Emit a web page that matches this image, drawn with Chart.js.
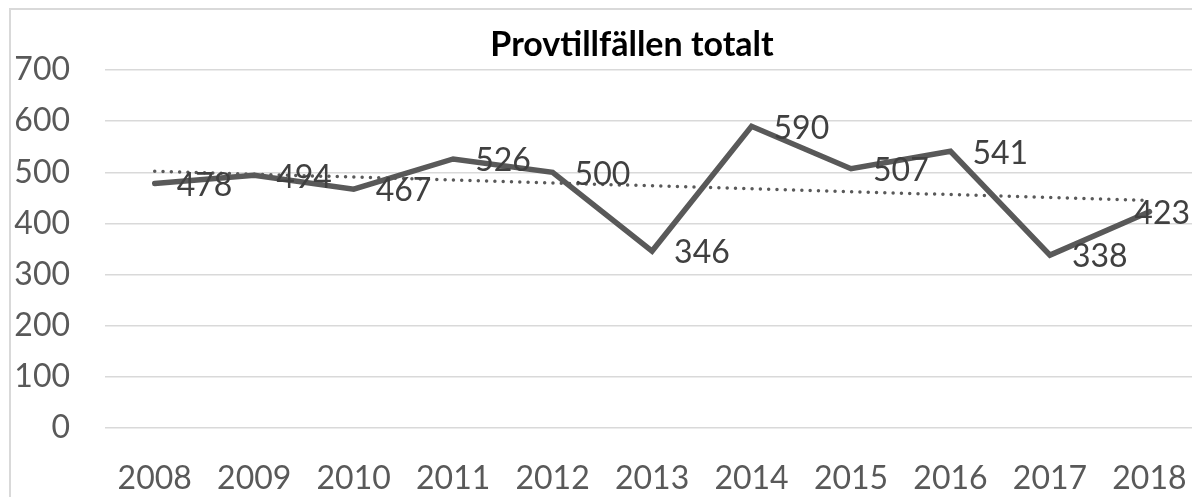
<!DOCTYPE html>
<html>
<head>
<meta charset="utf-8">
<title>Provtillfällen totalt</title>
<script src="https://cdn.jsdelivr.net/npm/chart.js@4"></script>
<style>
    html, body {
        margin: 0;
        padding: 0;
        width: 1192px;
        height: 497px;
        overflow: hidden;
        background: #ffffff;
    }
    .frame {
        position: absolute;
        left: 9px;
        top: 8px;
        width: 1300px;
        height: 600px;
        border-left: 2px solid #d9d9d9;
        border-top: 2px solid #d9d9d9;
        box-sizing: border-box;
    }
    #chart {
        position: absolute;
        left: 0;
        top: 0;
    }
</style>
</head>
<body>
<div class="frame"></div>
<canvas id="chart" width="1210" height="497"></canvas>

<script>
/* ============================================= */
/*                    Data                       */
/* ============================================= */

const years = ["2008", "2009", "2010", "2011", "2012", "2013", "2014", "2015", "2016", "2017", "2018"];
const totals = [478, 494, 467, 526, 500, 346, 590, 507, 541, 338, 423];
const yTicks = [0, 100, 200, 300, 400, 500, 600, 700];

// linear trendline at both ends
const trendStart = 502;
const trendEnd = 445;

const chartTitle = "Provtillfällen totalt";


/* ============================================= */
/*                   Helpers                     */
/* ============================================= */

const FONT = "Lato, 'Open Sans', sans-serif";
const LABEL_RIGHT_LIMIT = 1190;   // labels are pushed back inside the frame

// only the two ends of the trendline, the gaps get spanned
const trendData = years.map((y, i) => {
    if (i === 0) return trendStart;
    if (i === years.length - 1) return trendEnd;
    return null;
});

// draws the title in the middle of the chart frame
const titlePlugin = {
    id: 'excelTitle',
    afterDraw(chart) {
        const ctx = chart.ctx;
        ctx.save();
        ctx.font = "bold 34px " + FONT;
        ctx.fillStyle = '#000000';
        ctx.textAlign = 'center';
        ctx.textBaseline = 'alphabetic';
        ctx.fillText(chartTitle, 632, 56);
        ctx.restore();
    }
};

// value labels, to the right of each point
const valueLabels = {
    id: 'valueLabels',
    afterDatasetsDraw(chart) {
        const meta = chart.getDatasetMeta(1);
        const ctx = chart.ctx;
        ctx.save();
        ctx.font = "32px " + FONT;
        ctx.fillStyle = '#404040';
        ctx.textAlign = 'left';
        ctx.textBaseline = 'middle';
        meta.data.forEach((pt, i) => {
            const txt = String(totals[i]);
            let x = pt.x + 22;
            const w = ctx.measureText(txt).width;
            if (x + w > LABEL_RIGHT_LIMIT) {
                x = LABEL_RIGHT_LIMIT - w;
            }
            ctx.fillText(txt, x, pt.y + 2);
        });
        ctx.restore();
    }
};


/* ============================================= */
/*                  Line Chart                   */
/* ============================================= */

const canvas = document.getElementById('chart');

const chartData = {
    labels: years,
    datasets: [{
        label: 'Linjär trend',
        data: trendData,
        borderColor: '#595959',
        borderWidth: 3.5,
        borderDash: [0, 8.3],
        borderCapStyle: 'round',
        pointRadius: 0,
        spanGaps: true,
        tension: 0
    }, {
        label: 'Provtillfällen',
        data: totals,
        borderColor: '#595959',
        borderWidth: 5.5,
        borderCapStyle: 'round',
        borderJoinStyle: 'miter',
        pointRadius: 0,
        tension: 0
    }]
};

const chartOptions = {
    responsive: false,
    animation: false,
    layout: {
        padding: { top: 70, left: 0, right: 10, bottom: 0 }
    },
    scales: {
        x: {
            offset: true,
            grid: { display: false },
            border: { display: false },
            ticks: {
                color: '#595959',
                font: { family: FONT, size: 32 },
                padding: 23,
                maxRotation: 0,
                autoSkip: false
            },
            afterFit: (scale) => { scale.height = 69; }
        },
        y: {
            min: 0,
            max: 700,
            afterBuildTicks: (scale) => {
                scale.ticks = yTicks.map(v => ({ value: v }));
            },
            grid: {
                color: '#d9d9d9',
                lineWidth: 1.5,
                drawTicks: false
            },
            border: { display: false },
            ticks: {
                color: '#595959',
                font: { family: FONT, size: 32 },
                padding: 35
            },
            afterFit: (scale) => { scale.width = 105; }
        }
    },
    plugins: {
        legend: { display: false },
        title: { display: false },
        tooltip: { enabled: false }
    }
};

let lineChart = new Chart(canvas, {
    type: 'line',
    data: chartData,
    options: chartOptions,
    plugins: [valueLabels, titlePlugin]
});
</script>
</body>
</html>
